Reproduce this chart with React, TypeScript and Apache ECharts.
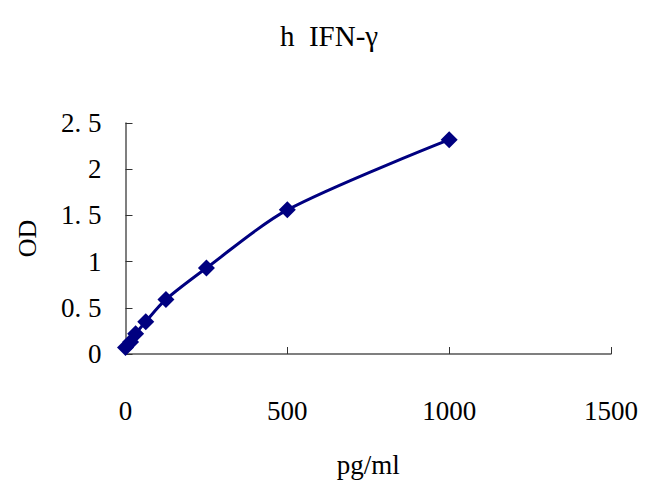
import React, { useEffect, useRef } from 'react';
import * as echarts from 'echarts';

// standard concentrations (pg/ml) and measured OD
const concentrations = [0, 15.6, 31.25, 62.5, 125, 250, 500, 1000];
const odValues = [0.07, 0.13, 0.22, 0.35, 0.59, 0.93, 1.56, 2.32];

const FONT = '"Liberation Serif", "DejaVu Serif", serif';

const App: React.FC = () => {
  const chartRef = useRef<HTMLDivElement>(null);

  useEffect(() => {
    if (!chartRef.current) return;
    const chart = echarts.init(chartRef.current, undefined, { renderer: 'svg' });

    const option = {
      animation: false,
      backgroundColor: '#ffffff',
      title: {
        text: 'h  IFN-γ',
        left: 'center',
        top: 16,
        textStyle: {
          fontFamily: FONT,
          fontSize: 29,
          fontWeight: 'normal',
          color: '#000',
        },
      },
      grid: {
        left: 125.5,
        right: 47,
        top: 123,
        bottom: 142,
        containLabel: false,
      },
      xAxis: {
        type: 'value',
        min: 0,
        max: 1500,
        interval: 500,
        name: 'pg/ml',
        nameLocation: 'middle',
        nameGap: 97,
        nameTextStyle: { fontFamily: FONT, fontSize: 27, color: '#000' },
        axisLine: { show: true, lineStyle: { color: '#555', width: 1.5 } },
        axisTick: { show: true, inside: true, length: 7, lineStyle: { color: '#333', width: 1 } },
        axisLabel: {
          fontFamily: FONT,
          fontSize: 27,
          color: '#000',
          margin: 43,
          formatter: (v: number) => String(v),
        },
        splitLine: { show: false },
      },
      yAxis: {
        type: 'value',
        min: 0,
        max: 2.5,
        interval: 0.5,
        name: 'OD',
        nameLocation: 'middle',
        nameGap: 85,
        nameTextStyle: { fontFamily: FONT, fontSize: 26, color: '#000' },
        axisLine: { show: true, lineStyle: { color: '#555', width: 1.5 } },
        axisTick: { show: true, inside: true, length: 7, lineStyle: { color: '#333', width: 1 } },
        axisLabel: {
          fontFamily: FONT,
          fontSize: 27,
          color: '#000',
          margin: 24,
          formatter: (v: number) => (v % 1 === 0 ? String(v) : v.toFixed(1).replace('.', '. ')),
        },
        splitLine: { show: false },
      },
      series: [
        {
          type: 'line',
          data: concentrations.map((c, i) => [c, odValues[i]]),
          smooth: 0.3,
          symbol: 'diamond',
          symbolSize: 17,
          itemStyle: { color: '#000080' },
          lineStyle: { color: '#000080', width: 3 },
        },
      ],
    };

    chart.setOption(option);
    return () => {
      chart.dispose();
    };
  }, []);

  return (
    <div
      ref={chartRef}
      style={{ position: 'absolute', left: 0, top: 0, width: '658px', height: '496px' }}
    />
  );
};

export default App;
